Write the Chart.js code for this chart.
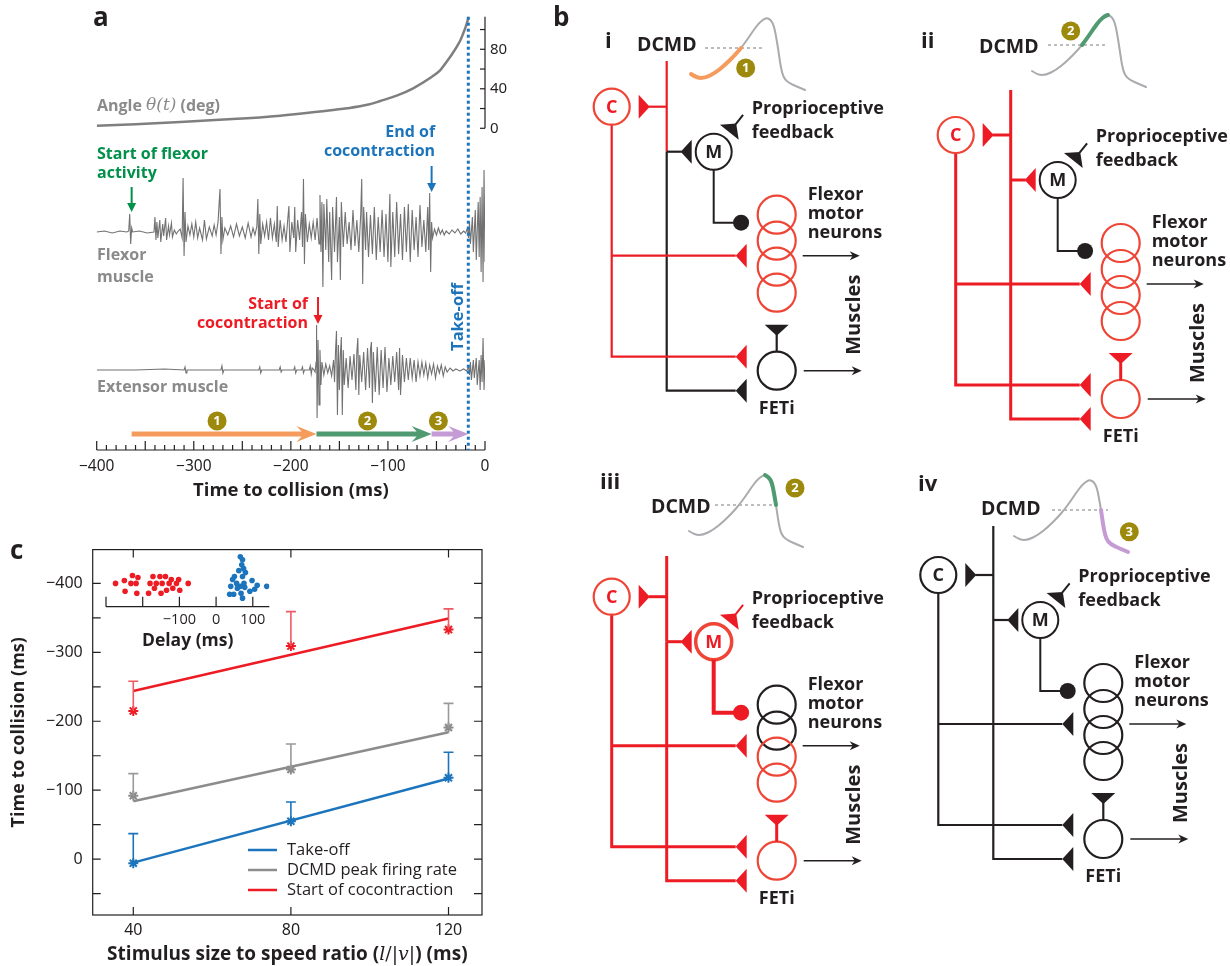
<!DOCTYPE html>
<html>
<head>
<meta charset="utf-8">
<script src="https://cdn.jsdelivr.net/npm/chart.js@4.4.1/dist/chart.umd.min.js"></script>
<style>
html, body { margin: 0; padding: 0; background: #fff; }
#page { position: relative; width: 1230px; height: 966px; overflow: hidden; }
.box { position: absolute; }
</style>
</head>
<body>
<div id="page">
  <div class="box" style="left:60px;top:0;width:470px;height:510px"><canvas id="chartA"></canvas></div>
  <div class="box" style="left:0;top:530px;width:490px;height:436px"><canvas id="chartC"></canvas></div>
  <div class="box" style="left:90px;top:545px;width:200px;height:110px"><canvas id="inset"></canvas></div>
  <div class="box" style="left:540px;top:0;width:690px;height:966px"><canvas id="chartB"></canvas></div>
</div>
<script>
// ---------- panel a data ----------
const timeTicks = [-400, -300, -200, -100, 0];
const angleTicks = [0, 40, 80];
const angleT   = [-400, -360, -314, -260, -211, -170, -142, -120, -108, -91, -74, -57, -46, -39.5, -34, -29, -25, -22.4, -20, -17.2];
const angleDeg = [2.6, 4.2, 6.4, 9.3, 12.8, 17, 20.2, 24, 27.6, 33, 40.5, 50.6, 59, 67.4, 75, 82.6, 90, 96.2, 102.5, 111.4];

// EMG traces: [time (ms), amplitude (a.u.)]
const flexorTrace = [
  [-400,0],[-392,1],[-384,-1],[-376,1],[-369,0],[-367,1],[-366,18],[-365,-12],[-364,4],[-363,0],[-356,1],[-348,-1],[-341,0],
  [-340,15],[-339,-8],[-338,10],[-337,-6],[-335,12],[-334,-10],[-332,8],[-331,-4],[-329,14],[-328,-8],[-326,6],[-325,-3],[-323,9],[-322,-5],[-320,2],[-318,-2],[-316,1],[-314,3],[-312,-6],
  [-311,54],[-310,-24],[-309,20],[-308,-10],[-306,6],[-304,-3],[-302,8],[-300,-5],[-298,10],[-296,-6],[-294,4],[-291,-8],[-289,12],[-287,-7],[-284,5],[-281,-4],[-279,7],[-277,-3],[-275,10],
  [-273,43],[-272,-22],[-271,15],[-270,-8],[-268,4],[-265,-3],[-262,6],[-259,-5],[-256,8],[-253,-4],[-250,5],[-247,-6],[-244,9],[-241,-5],[-239,4],[-237,-3],[-235,6],
  [-234,33],[-233,-22],[-232,18],[-231,-12],[-229,8],[-227,-4],[-225,10],[-223,-8],[-221,14],[-219,-6],[-217,8],[-215,-10],[-214,26],[-213,-15],[-211,12],[-209,-8],[-207,6],[-205,-10],[-203,15],[-202,26],[-201,-20],[-199,10],[-197,-6],
  [-196,25],[-195,-20],[-193,12],[-191,-8],[-189,20],[-188,-15],[-187,53],[-186,-32],[-185,18],[-183,-10],[-181,8],[-179,-6],[-177,10],[-175,-8],[-173,14],[-171,-12],[-170,37],[-169,-20],[-168,30],[-167,-55],[-166,28],[-164,-18],[-163,33],[-161,-30],[-160,20],[-158,-48],[-157,25],[-155,-20],[-153,35],[-152,-30],[-150,15],[-149,-48],[-148,30],[-146,-15],[-144,20],[-142,-12],[-140,10],[-138,-18],[-136,22],[-134,-14],[-132,12],[-130,-20],[-128,18],
  [-127,53],[-126,-52],[-125,25],[-123,-18],[-122,20],[-120,-25],[-118,17],[-116,-22],[-114,25],[-112,-28],[-110,15],[-108,-20],[-106,22],[-104,-25],[-102,18],[-100,-30],[-98,38],[-97,-35],[-95,20],[-93,-25],[-91,30],[-89,-22],[-87,18],[-85,-28],[-83,25],[-81,-20],[-79,28],[-77,-30],[-75,22],[-73,-18],[-71,15],[-69,-25],[-67,27],[-65,-15],[-63,12],[-61,-20],[-59,25],[-58,-18],[-57,39],[-56,-40],[-55,10],[-54,-6],
  [-52,3],[-50,-3],[-48,4],[-46,-2],[-44,2],[-42,-3],[-40,1],[-37,-2],[-34,2],[-31,-1],[-28,3],[-25,-2],[-22,1],[-20,-1],
  [-18,4],[-17,-6],[-16,10],[-15,-12],[-13,15],[-12,-20],[-10,22],[-9,-28],[-7,30],[-6,-25],[-5,35],[-4,-40],[-3,45],[-2,-50],[-1,62],[0,-30]
];
const extensorTrace = [
  [-400,0],[-360,0],[-330,1],[-310,0],[-309,3],[-308,-3],[-307,0],[-290,0],[-272,0],[-271,4],[-270,-3],[-269,0],[-250,0],[-233,0],[-232,3],[-231,-3],[-230,0],[-212,0],[-211,3],[-210,-2],[-209,0],[-197,0],[-196,3],[-195,-3],[-194,0],[-189,0],[-188,3],[-187,-3],[-186,0],[-181,0],[-180,4],[-179,-4],[-178,2],[-176,0],[-175,-2],
  [-174,8],[-173.5,45],[-173,-48],[-172,30],[-171,-35],[-170,20],[-169,-15],[-168,8],[-166,-5],[-164,6],[-162,-3],[-160,4],[-158,-6],[-156,10],[-155,-12],[-154,18],[-153,39],[-152,-45],[-151,25],[-150,-20],[-149,15],[-148,33],[-147,-45],[-146,20],[-145,-15],[-143,12],[-141,-18],[-139,14],[-137,-10],[-135,16],[-133,-20],[-132,18],[-131,32],[-130,-25],[-129,15],[-127,-12],[-125,18],[-123,-20],[-121,22],[-119,-18],[-118,20],[-117,28],[-116,-33],[-115,18],[-113,-22],[-111,23],[-109,-25],[-107,20],[-105,-18],[-103,23],[-101,-22],
  [-99,12],[-97,-15],[-95,14],[-93,-12],[-91,18],[-89,-20],[-88,22],[-87,-25],[-85,15],[-83,-12],[-81,12],[-79,-10],[-77,12],[-75,-8],[-73,10],[-71,-12],[-69,8],[-67,-6],[-65,8],[-63,-5],[-61,7],[-59,-8],[-57,5],[-55,-4],[-53,6],[-51,-8],[-49,4],[-47,-3],[-45,5],[-43,-6],[-41,3],[-39,-2],[-36,2],[-33,-1],[-30,1],[-26,-1],[-22,1],[-19,-1],
  [-17,3],[-16,-5],[-15,8],[-14,-10],[-12,10],[-11,-8],[-9,12],[-8,-15],[-6,10],[-5,-20],[-4,15],[-3,-12],[-2,32],[-1,-20],[0,10]
];
const flexorStartT = -364;
const cocoStartT = -172;
const cocoEndT = -55;
const takeoffT = -17.2;
const phaseStart = [-364, -173.6, -55];
const phaseEnd = [-173.6, -55, -17.2];
const phaseBadgeT = [-276, -121, -48];

// ---------- panel c data ----------
const ratioTicks = [40, 80, 120];
const ttcTicks = [-400, -300, -200, -100, 0];
const ratios = [40, 80, 120];
const takeoffMean = [6, -55, -118];
const takeoffErr = [-37, -83, -155];
const dcmdMean = [-92, -130, -191];
const dcmdErr = [-124, -167, -226];
const cocoMean = [-215, -309, -333];
const cocoErr = [-258, -359, -363];
const fitX = [40, 120];
const takeoffFit = [5, -117];
const dcmdFit = [-84, -184];
const cocoFit = [-244, -349];
const seriesNames = ['Take-off', 'DCMD peak firing rate', 'Start of cocontraction'];

const delayTicks = [-300, -200, -100, 0, 100];
const delayLabels = [-100, 0, 100];
// inset: [delay (ms), jitter row]
const delayCoco = [[-274,35],[-250,32],[-248,43],[-232,35],[-228,27],[-218,35],[-216,45],[-213,29],[-184,45],[-180,35],[-172,28],[-168,40],[-163,35],[-153,28],[-150,45],[-147,35],[-138,28],[-135,42],[-128,35],[-122,31],[-118,40],[-108,35],[-102,31],[-99,42],[-76,35]];
const delayTakeoff = [[66,8],[72,11],[70,16],[75,20],[62,22],[80,24],[50,28],[72,28],[56,35],[76,35],[40,38],[45,31],[58,40],[66,38],[78,39],[98,32],[112,37],[138,38],[37,46],[48,46],[68,45],[92,43],[105,41],[72,50]];

// ---------- colours ----------
const INK = '#231f20';
const GREY_TXT = '#8a8a8a';
const RED = '#ed1c24';
const RED_C = '#ef4536';
const BLUE = '#1c75bc';
const GREEN_TXT = '#00904a';
const ORANGE = '#f69b5e';
const GREEN = '#4f9a70';
const PURPLE = '#c49bd4';
const OLIVE = '#9d8a0c';
const FONT = "'Open Sans', 'Noto Sans', sans-serif";
const TICKFONT = "'Noto Sans', 'Open Sans', sans-serif";

Chart.defaults.font.family = FONT;
Chart.defaults.color = INK;

const fmt = v => v < 0 ? '\u2212' + Math.abs(v) : String(v);

function text(ctx, s, x, y, color, font, align) {
  ctx.fillStyle = color;
  ctx.font = font;
  ctx.textAlign = align || 'left';
  ctx.textBaseline = 'middle';
  ctx.fillText(s, x, y);
}
function downArrow(ctx, x, y0, y1, color) {
  ctx.strokeStyle = color; ctx.fillStyle = color; ctx.lineWidth = 2;
  ctx.beginPath(); ctx.moveTo(x, y0); ctx.lineTo(x, y1 - 7); ctx.stroke();
  ctx.beginPath(); ctx.moveTo(x - 4.5, y1 - 9); ctx.lineTo(x + 4.5, y1 - 9); ctx.lineTo(x, y1); ctx.closePath(); ctx.fill();
}
function rightArrow(ctx, x0, x1, y) {
  ctx.strokeStyle = INK; ctx.fillStyle = INK; ctx.lineWidth = 1.6;
  ctx.beginPath(); ctx.moveTo(x0, y); ctx.lineTo(x1 - 5, y); ctx.stroke();
  ctx.beginPath(); ctx.moveTo(x1 - 10, y - 4.5); ctx.lineTo(x1, y); ctx.lineTo(x1 - 10, y + 4.5); ctx.lineTo(x1 - 7, y); ctx.closePath(); ctx.fill();
}
function badge(ctx, x, y, n) {
  ctx.fillStyle = OLIVE;
  ctx.beginPath(); ctx.arc(x, y, 9.5, 0, Math.PI * 2); ctx.fill();
  text(ctx, n, x, y + 0.5, '#fff', 'bold 13px ' + FONT, 'center');
}

// ---------- panel a ----------
const panelA = {
  id: 'panelA',
  afterDatasetsDraw(chart) {
    const { ctx, chartArea: ca, scales } = chart;
    const sx = scales.x, ya = scales.yAng;
    const X = t => sx.getPixelForValue(t);
    const L = 60; // canvas offset on the page
    ctx.save();
    // time axis
    ctx.strokeStyle = INK; ctx.lineWidth = 1.2;
    ctx.beginPath(); ctx.moveTo(ca.left, ca.bottom); ctx.lineTo(ca.right, ca.bottom); ctx.stroke();
    for (let t = sx.min; t <= sx.max; t += 10) {
      const len = t % 50 === 0 ? 9 : 5;
      ctx.beginPath(); ctx.moveTo(X(t), ca.bottom); ctx.lineTo(X(t), ca.bottom - len); ctx.stroke();
    }
    // angle axis
    const yr = ca.right;
    ctx.beginPath(); ctx.moveTo(yr, ya.getPixelForValue(0)); ctx.lineTo(yr, ya.getPixelForValue(ya.max)); ctx.stroke();
    for (let d = 0; d <= 100; d += 20) {
      const y = ya.getPixelForValue(d);
      ctx.beginPath(); ctx.moveTo(yr, y); ctx.lineTo(yr - 5, y); ctx.stroke();
    }
    // take-off line
    ctx.strokeStyle = BLUE; ctx.lineWidth = 3; ctx.setLineDash([3, 3]);
    ctx.beginPath(); ctx.moveTo(X(takeoffT), ca.top); ctx.lineTo(X(takeoffT), ca.bottom); ctx.stroke();
    ctx.setLineDash([]);
    // phase arrows
    const cols = [ORANGE, GREEN, PURPLE];
    const ay = ca.bottom - 16;
    phaseStart.forEach((s, i) => {
      const x0 = X(s), xe = X(phaseEnd[i]);
      ctx.fillStyle = cols[i];
      ctx.beginPath();
      ctx.moveTo(x0, ay - 2.6); ctx.lineTo(xe - 15, ay - 2.6); ctx.lineTo(xe - 20, ay - 8);
      ctx.lineTo(xe, ay); ctx.lineTo(xe - 20, ay + 8); ctx.lineTo(xe - 15, ay + 2.6); ctx.lineTo(x0, ay + 2.6);
      ctx.closePath(); ctx.fill();
      badge(ctx, X(phaseBadgeT[i]), ay - 13, String(i + 1));
    });
    // labels
    text(ctx, 'a', 93 - L, 19, INK, 'bold 26px ' + FONT);
    const B16 = 'bold 16px ' + FONT;
    let xx = 97 - L;
    ctx.font = B16; text(ctx, 'Angle ', xx, 106, GREY_TXT, B16); xx += ctx.measureText('Angle ').width;
    const IT = "italic 17px 'DejaVu Serif', 'Liberation Serif', serif";
    ctx.font = IT; text(ctx, '\u03b8(t)', xx, 106, GREY_TXT, IT); xx += ctx.measureText('\u03b8(t)').width;
    text(ctx, ' (deg)', xx, 106, GREY_TXT, B16);

    text(ctx, 'Start of flexor', 97 - L, 154, GREEN_TXT, B16);
    text(ctx, 'activity', 97 - L, 173, GREEN_TXT, B16);
    downArrow(ctx, X(flexorStartT), 187, 212, GREEN_TXT);

    text(ctx, 'End of', X(cocoEndT) + 3.5, 132, BLUE, B16, 'right');
    text(ctx, 'cocontraction', X(cocoEndT) + 3.5, 151, BLUE, B16, 'right');
    downArrow(ctx, X(cocoEndT), 166, 192, BLUE);

    text(ctx, 'Flexor', 97 - L, 255, GREY_TXT, B16);
    text(ctx, 'muscle', 97 - L, 277, GREY_TXT, B16);

    text(ctx, 'Start of', X(cocoStartT) - 10, 304, RED, B16, 'right');
    text(ctx, 'cocontraction', X(cocoStartT) - 10, 323, RED, B16, 'right');
    downArrow(ctx, X(cocoStartT), 297, 324, RED);

    text(ctx, 'Extensor muscle', 97 - L, 387, GREY_TXT, B16);

    ctx.translate(X(takeoffT) - 10, 317); ctx.rotate(-Math.PI / 2);
    text(ctx, 'Take-off', 0, 0, BLUE, 'bold 16.5px ' + FONT, 'center');
    ctx.restore();
  }
};

new Chart(document.getElementById('chartA'), {
  type: 'line',
  data: {
    datasets: [
      { label: 'Angle', data: angleT.map((t, i) => ({ x: t, y: angleDeg[i] })), yAxisID: 'yAng',
        borderColor: '#7f7f7f', borderWidth: 2.5, pointRadius: 0, cubicInterpolationMode: 'monotone' },
      { label: 'Flexor muscle', data: flexorTrace.map(([t, v]) => ({ x: t, y: v })), yAxisID: 'yFlex',
        borderColor: '#727272', borderWidth: 1.1, pointRadius: 0, tension: 0 },
      { label: 'Extensor muscle', data: extensorTrace.map(([t, v]) => ({ x: t, y: v })), yAxisID: 'yExt',
        borderColor: '#727272', borderWidth: 1.1, pointRadius: 0, tension: 0 }
    ]
  },
  options: {
    responsive: true, maintainAspectRatio: false, animation: false, devicePixelRatio: 1,
    layout: { padding: { left: 36.7, right: 15, top: 16.7, bottom: 8 } },
    plugins: { legend: { display: false }, tooltip: { enabled: false } },
    scales: {
      x: {
        type: 'linear', min: -400, max: 0,
        afterBuildTicks: s => { s.ticks = timeTicks.map(v => ({ value: v })); },
        afterFit: s => { s.height = 52; },
        grid: { display: false, drawTicks: false }, border: { display: false },
        ticks: { autoSkip: false, maxRotation: 0, padding: 7, font: { size: 15.5, family: TICKFONT }, color: INK, callback: v => fmt(v) },
        title: { display: true, text: 'Time to collision (ms)', font: { size: 18.5, weight: 'bold' }, color: INK, padding: { top: 0, bottom: 0 } }
      },
      yAng: {
        type: 'linear', position: 'right', min: -325.8, max: 113,
        afterBuildTicks: s => { s.ticks = angleTicks.map(v => ({ value: v })); },
        afterFit: s => { s.width = 30; },
        grid: { display: false, drawTicks: false }, border: { display: false },
        ticks: { padding: 5, font: { size: 15, family: TICKFONT }, color: INK }
      },
      yFlex: { type: 'linear', display: false, min: -218, max: 215.3 },
      yExt: { type: 'linear', display: false, min: -80, max: 353.3 }
    }
  },
  plugins: [panelA]
});

// ---------- panel c ----------
const panelC = {
  id: 'panelC',
  afterDatasetsDraw(chart) {
    const { ctx, chartArea: ca, scales } = chart;
    const sx = scales.x, sy = scales.y;
    ctx.save();
    // error bars
    const errs = [[takeoffMean, takeoffErr, BLUE], [dcmdMean, dcmdErr, '#9a9a9a'], [cocoMean, cocoErr, '#ef5a60']];
    errs.forEach(([m, e, c]) => {
      ctx.strokeStyle = c; ctx.lineWidth = 1.6;
      ratios.forEach((r, i) => {
        const x = sx.getPixelForValue(r), y0 = sy.getPixelForValue(m[i]), y1 = sy.getPixelForValue(e[i]);
        ctx.beginPath(); ctx.moveTo(x, y0); ctx.lineTo(x, y1); ctx.moveTo(x, y1); ctx.lineTo(x + 5, y1); ctx.moveTo(x, y1); ctx.lineTo(x - 5, y1); ctx.stroke();
      });
    });
    // frame and ticks
    ctx.strokeStyle = INK; ctx.lineWidth = 1.2;
    ctx.strokeRect(ca.left, ca.top, ca.right - ca.left, ca.bottom - ca.top);
    ratioTicks.forEach(v => {
      const x = sx.getPixelForValue(v);
      ctx.beginPath(); ctx.moveTo(x, ca.bottom); ctx.lineTo(x, ca.bottom - 8); ctx.moveTo(x, ca.top); ctx.lineTo(x, ca.top + 8); ctx.stroke();
    });
    for (let v = -400; v <= 50; v += 50) {
      const y = sy.getPixelForValue(v);
      ctx.beginPath(); ctx.moveTo(ca.left, y); ctx.lineTo(ca.left + 8, y); ctx.moveTo(ca.right, y); ctx.lineTo(ca.right - 8, y); ctx.stroke();
    }
    // legend
    const lc = [BLUE, '#8c8c8c', RED];
    seriesNames.forEach((n, i) => {
      const y = ca.bottom - 65 + i * 20;
      ctx.strokeStyle = lc[i]; ctx.lineWidth = 2.5;
      ctx.beginPath(); ctx.moveTo(248, y); ctx.lineTo(277, y); ctx.stroke();
      text(ctx, n, 287, y, INK, '16.5px ' + FONT);
    });
    // x title with italic symbols
    const B = 'bold 19px ' + FONT, I = "italic 19px 'DejaVu Serif', 'Liberation Serif', serif", R = "19px 'DejaVu Serif', 'Liberation Serif', serif";
    const parts = [['Stimulus size to speed ratio (', B], ['l', I], ['/|', R], ['v', I], ['|', R], [') (ms)', B]];
    let w = 0;
    parts.forEach(([s, f]) => { ctx.font = f; w += ctx.measureText(s).width; });
    let x = (ca.left + ca.right) / 2 - w / 2;
    const ty = 425;
    parts.forEach(([s, f]) => { text(ctx, s, x, ty, INK, f); ctx.font = f; x += ctx.measureText(s).width; });
    text(ctx, 'c', 10, 22, INK, 'bold 26px ' + FONT);
    ctx.restore();
  }
};

const pts = arr => ratios.map((r, i) => ({ x: r, y: arr[i] }));
const fit = arr => fitX.map((r, i) => ({ x: r, y: arr[i] }));
new Chart(document.getElementById('chartC'), {
  type: 'line',
  data: {
    datasets: [
      { label: seriesNames[0], data: fit(takeoffFit), borderColor: BLUE, borderWidth: 2.5, pointRadius: 0 },
      { label: seriesNames[1], data: fit(dcmdFit), borderColor: '#8c8c8c', borderWidth: 2.5, pointRadius: 0 },
      { label: seriesNames[2], data: fit(cocoFit), borderColor: RED, borderWidth: 2.5, pointRadius: 0 },
      { data: pts(takeoffMean), showLine: false, pointStyle: 'star', pointRadius: 5, borderWidth: 2, borderColor: BLUE, backgroundColor: BLUE },
      { data: pts(dcmdMean), showLine: false, pointStyle: 'star', pointRadius: 5, borderWidth: 2, borderColor: '#8c8c8c', backgroundColor: '#8c8c8c' },
      { data: pts(cocoMean), showLine: false, pointStyle: 'star', pointRadius: 5, borderWidth: 2, borderColor: RED, backgroundColor: RED }
    ]
  },
  options: {
    responsive: true, maintainAspectRatio: false, animation: false, devicePixelRatio: 1,
    layout: { padding: { left: 0, right: 8, top: 18.3, bottom: 0 } },
    plugins: { legend: { display: false }, tooltip: { enabled: false } },
    scales: {
      x: {
        type: 'linear', min: 29.7, max: 128.5,
        afterBuildTicks: s => { s.ticks = ratioTicks.map(v => ({ value: v })); },
        afterFit: s => { s.height = 51; },
        grid: { display: false, drawTicks: false }, border: { display: false },
        ticks: { padding: 6, font: { size: 16, family: TICKFONT }, color: INK }
      },
      y: {
        type: 'linear', reverse: true, min: -449, max: 81,
        afterBuildTicks: s => { s.ticks = ttcTicks.map(v => ({ value: v })); },
        afterFit: s => { s.width = 92.7; },
        grid: { display: false, drawTicks: false }, border: { display: false },
        ticks: { padding: 10, font: { size: 16, family: TICKFONT }, color: INK, callback: v => fmt(v) },
        title: { display: true, text: 'Time to collision (ms)', font: { size: 18, weight: 'bold' }, color: INK, padding: { top: 8, bottom: 0 } }
      }
    }
  },
  plugins: [panelC]
});

// inset
const insetAxis = {
  id: 'insetAxis',
  afterDatasetsDraw(chart) {
    const { ctx, chartArea: ca, scales } = chart;
    ctx.save();
    ctx.strokeStyle = INK; ctx.lineWidth = 1.2;
    ctx.beginPath(); ctx.moveTo(ca.left, ca.bottom); ctx.lineTo(ca.right, ca.bottom); ctx.stroke();
    delayTicks.forEach(v => {
      const x = scales.x.getPixelForValue(v);
      ctx.beginPath(); ctx.moveTo(x, ca.bottom); ctx.lineTo(x, ca.bottom - 10); ctx.stroke();
    });
    ctx.restore();
  }
};
new Chart(document.getElementById('inset'), {
  type: 'scatter',
  data: {
    datasets: [
      { data: delayCoco.map(([d, j]) => ({ x: d, y: j })), backgroundColor: RED, borderColor: RED, pointRadius: 2.8, borderWidth: 0 },
      { data: delayTakeoff.map(([d, j]) => ({ x: d, y: j })), backgroundColor: BLUE, borderColor: BLUE, pointRadius: 2.8, borderWidth: 0 }
    ]
  },
  options: {
    responsive: true, maintainAspectRatio: false, animation: false, devicePixelRatio: 1,
    layout: { padding: { left: 16, right: 20.7, top: 3, bottom: 3.3 } },
    plugins: { legend: { display: false }, tooltip: { enabled: false } },
    scales: {
      x: {
        type: 'linear', min: -300, max: 145,
        afterBuildTicks: s => { s.ticks = delayTicks.map(v => ({ value: v })); },
        afterFit: s => { s.height = 45; },
        grid: { display: false, drawTicks: false }, border: { display: false },
        ticks: { padding: 4, font: { size: 14.5, family: FONT }, color: INK, callback: v => delayLabels.includes(v) ? fmt(v) : '' },
        title: { display: true, text: 'Delay (ms)', font: { size: 17.5, weight: 'bold' }, color: INK, padding: { top: 0, bottom: 0 } }
      },
      y: { type: 'linear', display: false, min: 0, max: 58.7, reverse: true }
    }
  },
  plugins: [insetAxis]
});

// ---------- panel b: circuit diagrams ----------
const K = INK;
const dcmdShape = [[-76,56],[-70,60],[-62,60],[-52,55],[-42,47],[-32,37],[-26,30],[-20,22],[-14,13],[-8,5],[-3,1],[0,0],
  [4,2],[7,8],[9,18],[11,30],[13,44],[15,55],[18,62],[24,66],[31,69],[38,72]];
const diagrams = [
  { id: 'i', C: [611.7, 106.7], top: 61, num: [605, 42], dcmd: [637, 45], dash: [705, 762], peak: [767, 18], seg: [0, 6], hl: ORANGE, badge: [745.7, 68, '1'], lw: 2.2,
    col: { dUp: RED, dLow: K, c: RED, m: K, mOut: K, prop: K, flex: [RED_C, RED_C, RED_C, RED_C], feti: K, fetiTop: K }, mw: 2, mOutW: 2 },
  { id: 'ii', C: [955.7, 135], top: 90, num: [921, 42], dcmd: [979, 47], dash: [1048, 1105], peak: [1108, 15], seg: [6, 11], hl: GREEN, badge: [1070.7, 31, '2'], lw: 3,
    col: { dUp: RED, dLow: RED, c: RED, m: K, mOut: K, prop: K, flex: [RED_C, RED_C, RED_C, RED_C], feti: RED_C, fetiTop: RED }, mw: 2, mOutW: 2 },
  { id: 'iii', C: [611.7, 596.7], top: 556, num: [600, 483], dcmd: [651, 507], dash: [715, 773], peak: [765, 475], seg: [11, 15], hl: GREEN, badge: [795, 488, '2'], lw: 3,
    col: { dUp: RED, dLow: RED, c: RED, m: RED_C, mOut: RED, prop: RED, flex: [K, K, RED_C, RED_C], feti: RED_C, fetiTop: RED }, mw: 3.5, mOutW: 4 },
  { id: 'iv', C: [938.3, 575], top: 526, num: [918, 485], dcmd: [981, 509], dash: [1052, 1108], peak: [1090, 480], seg: [15, 21], hl: PURPLE, badge: [1129.3, 531.7, '3'], lw: 2.2,
    col: { dUp: K, dLow: K, c: K, m: K, mOut: K, prop: K, flex: [K, K, K, K], feti: K, fetiTop: K }, mw: 2, mOutW: 2 }
];

function drawDiagram(ctx, X, Y, d) {
  const [cx, cy] = d.C;
  const ax = cx + 55;              // DCMD axon
  const M = [cx + 102, cy + 45];
  const fx = cx + 165;
  const fy = cy + 264;             // FETi
  const B18 = 'bold 18px ' + FONT;
  const line = (pts, color, w) => {
    ctx.strokeStyle = color; ctx.lineWidth = w; ctx.lineJoin = 'miter'; ctx.lineCap = 'butt';
    ctx.beginPath(); pts.forEach(([x, y], i) => i ? ctx.lineTo(X(x), Y(y)) : ctx.moveTo(X(x), Y(y))); ctx.stroke();
  };
  const syn = (bx, by, ux, uy, color) => {
    const px = -uy, py = ux;
    ctx.fillStyle = color;
    ctx.beginPath();
    ctx.moveTo(X(bx + px * 12), Y(by + py * 12));
    ctx.lineTo(X(bx - px * 12), Y(by - py * 12));
    ctx.lineTo(X(bx + ux * 11), Y(by + uy * 11));
    ctx.closePath(); ctx.fill();
  };
  const circle = (x, y, r, color, w) => {
    ctx.strokeStyle = color; ctx.lineWidth = w;
    ctx.beginPath(); ctx.arc(X(x), Y(y), r, 0, Math.PI * 2); ctx.stroke();
  };
  const lw = d.lw, c = d.col;

  // mini DCMD firing curve
  const pts = dcmdShape.map(([u, v]) => [d.peak[0] + u, d.peak[1] + v]);
  const curve = (a, b, color, w) => {
    ctx.strokeStyle = color; ctx.lineWidth = w; ctx.lineCap = 'round'; ctx.lineJoin = 'round';
    ctx.beginPath(); ctx.moveTo(X(pts[a][0]), Y(pts[a][1]));
    for (let i = a + 1; i < b; i++) {
      const mx = (pts[i][0] + pts[i + 1][0]) / 2, my = (pts[i][1] + pts[i + 1][1]) / 2;
      ctx.quadraticCurveTo(X(pts[i][0]), Y(pts[i][1]), X(mx), Y(my));
    }
    ctx.lineTo(X(pts[b][0]), Y(pts[b][1])); ctx.stroke();
  };
  ctx.strokeStyle = '#7a7a7a'; ctx.lineWidth = 1; ctx.setLineDash([3, 3]);
  ctx.beginPath(); ctx.moveTo(X(d.dash[0]), Y(d.peak[1] + 30)); ctx.lineTo(X(d.dash[1]), Y(d.peak[1] + 30)); ctx.stroke();
  ctx.setLineDash([]);
  curve(0, pts.length - 1, '#a9abae', 2);
  curve(d.seg[0], d.seg[1], d.hl, 4);
  badge(ctx, X(d.badge[0]), Y(d.badge[1]), d.badge[2]);
  text(ctx, 'DCMD', X(d.dcmd[0]), Y(d.dcmd[1]), INK, 'bold 19.5px ' + FONT);
  text(ctx, d.id, X(d.num[0]), Y(d.num[1]), INK, 'bold 22px ' + FONT);

  // DCMD axon
  line([[ax, d.top], [ax, M[1]]], c.dUp, lw);
  line([[ax, M[1]], [ax, cy + 284], [cx + 124, cy + 284]], c.dLow, lw);
  line([[ax, cy], [cx + 37, cy]], c.dUp, lw);
  syn(cx + 27, cy, 1, 0, c.dUp);
  line([[ax, M[1]], [cx + 70, M[1]]], c.dLow, lw);
  syn(cx + 80, M[1], -1, 0, c.dLow);
  syn(cx + 135, cy + 284, -1, 0, c.dLow);

  // C interneuron
  line([[cx, cy + 18], [cx, cy + 250], [cx + 124, cy + 250]], c.c, lw);
  line([[cx, cy + 149], [cx + 124, cy + 149]], c.c, lw);
  syn(cx + 135, cy + 149, -1, 0, c.c);
  syn(cx + 135, cy + 250, -1, 0, c.c);
  circle(cx, cy, 18, c.c === K ? K : RED_C, 2.2);
  text(ctx, 'C', X(cx), Y(cy + 1), c.c, B18, 'center');

  // M interneuron
  circle(M[0], M[1], 18, c.m, d.mw);
  text(ctx, 'M', X(M[0]), Y(M[1] + 1), c.m === K ? K : RED, B18, 'center');
  line([[M[0], M[1] + 18], [M[0], M[1] + 71], [M[0] + 22, M[1] + 71]], c.mOut, d.mOutW);
  ctx.fillStyle = c.mOut;
  ctx.beginPath(); ctx.arc(X(M[0] + 27.4), Y(M[1] + 71), 8, 0, Math.PI * 2); ctx.fill();
  // proprioceptive input
  const ux = 0.625, uy = -0.781;
  const bx = M[0] + 25 * ux, by = M[1] + 25 * uy;
  syn(bx, by, ux, uy, c.prop);
  line([[bx + 10 * ux, by + 10 * uy], [bx + 22 * ux, by + 22 * uy]], c.prop, 2);
  text(ctx, 'Proprioceptive', X(M[0] + 38), Y(M[1] - 43), INK, B18);
  text(ctx, 'feedback', X(M[0] + 38), Y(M[1] - 19), INK, B18);

  // flexor motor neurons
  for (let k = 0; k < 4; k++) circle(fx, cy + 108 + 26 * k, 19, c.flex[k], 2.2);
  text(ctx, 'Flexor', X(cx + 196), Y(cy + 88), INK, B18);
  text(ctx, 'motor', X(cx + 196), Y(cy + 107), INK, B18);
  text(ctx, 'neurons', X(cx + 196), Y(cy + 126), INK, B18);
  rightArrow(ctx, X(cx + 191), X(cx + 248), Y(cy + 149));

  // FETi
  circle(fx, fy, 19, c.feti, 2.2);
  syn(fx, fy - 46, 0, 1, c.fetiTop);
  line([[fx, fy - 37], [fx, fy - 19]], c.fetiTop, lw);
  rightArrow(ctx, X(cx + 192), X(cx + 250), Y(fy));
  text(ctx, 'FETi', X(fx), Y(cy + 302), INK, B18, 'center');
  ctx.save();
  ctx.translate(X(cx + 243), Y(cy + 208)); ctx.rotate(-Math.PI / 2);
  text(ctx, 'Muscles', 0, 0, INK, 'bold 20px ' + FONT, 'center');
  ctx.restore();
}

const panelB = {
  id: 'panelB',
  afterDraw(chart) {
    const { ctx, scales } = chart;
    const X = v => scales.x.getPixelForValue(v), Y = v => scales.y.getPixelForValue(v);
    ctx.save();
    text(ctx, 'b', X(553), Y(19), INK, 'bold 26px ' + FONT);
    diagrams.forEach(d => drawDiagram(ctx, X, Y, d));
    ctx.restore();
  }
};
new Chart(document.getElementById('chartB'), {
  type: 'scatter',
  data: { datasets: [] },
  options: {
    responsive: true, maintainAspectRatio: false, animation: false, devicePixelRatio: 1,
    layout: { padding: 0 },
    plugins: { legend: { display: false }, tooltip: { enabled: false } },
    scales: {
      x: { type: 'linear', display: false, min: 540, max: 1230 },
      y: { type: 'linear', display: false, min: 0, max: 966, reverse: true }
    }
  },
  plugins: [panelB]
});
</script>
</body>
</html>
